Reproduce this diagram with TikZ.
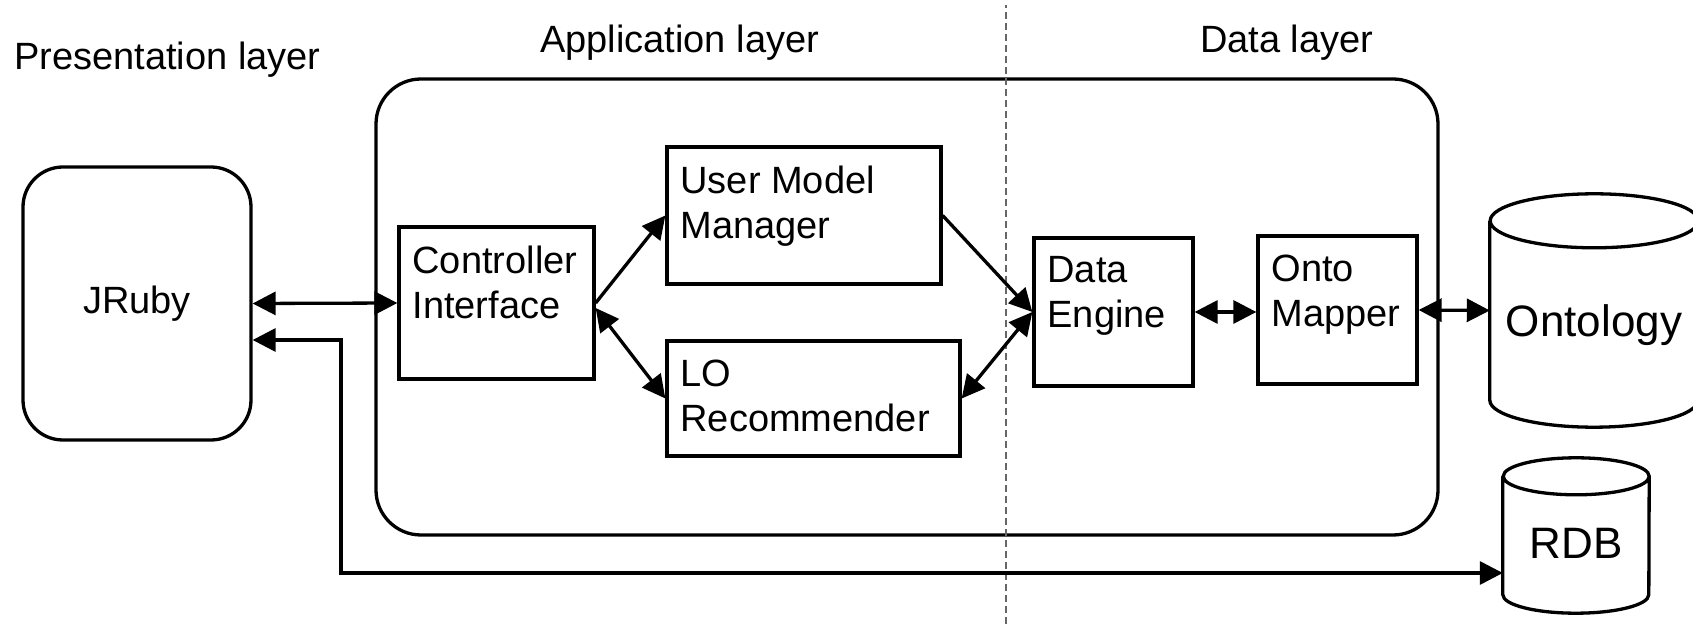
\documentclass[tikz,border=0pt]{standalone}
\usepackage{fontspec}
\setmainfont{Liberation Sans}
\usepackage{tikz}
\usetikzlibrary{arrows.meta,positioning}

\begin{document}
\begin{tikzpicture}[>={Triangle[length=23bp,width=23bp]},
	every node/.style={font=\fontsize{38bp}{45bp}\selectfont},
	block/.style={draw, line width=3.3bp, inner sep=0pt},
	blocktext/.style={label={[anchor=north west, inner sep=0pt, align=left, xshift=15bp, yshift=-20bp]north west:#1}},
	dbbox/.style={inner sep=0pt},
	dbfont/.style={inner sep=0pt, font=\fontsize{44bp}{52bp}\selectfont},
	title/.style={anchor=base west, inner sep=0pt},
	conn/.style={line width=3.3bp}]
	\useasboundingbox (0bp,0bp) rectangle (1693bp,624bp);

	% layer titles
	\node (pres) [title] at (14bp,554bp)   {Presentation layer};
	\node (appl) [title] at (540bp,571bp)  {Application layer};
	\node (datl) [title] at (1200bp,571bp) {Data layer};

	\node (jruby) [block, rounded corners=40bp, minimum width=228bp, minimum height=273bp] at (137bp,320.5bp) {JRuby};
	\node (app)   [block, rounded corners=45bp, minimum width=1062bp, minimum height=456bp] at (907bp,317bp) {};

	\node (ctrl) [block, minimum width=195bp, minimum height=152bp, blocktext={Controller\\Interface}] at (496.5bp,321bp) {};
	\node (umm)  [block, minimum width=274bp, minimum height=137bp, blocktext={User Model\\Manager}] at (804bp,408.5bp) {};
	\node (lo)   [block, minimum width=293bp, minimum height=115bp, blocktext={LO\\Recommender}] at (813.5bp,225.5bp) {};
	\node (de)   [block, minimum width=159bp, minimum height=148bp, blocktext={Data\\Engine}] at (1113.5bp,312bp) {};
	\node (om)   [block, minimum width=159bp, minimum height=148bp, blocktext={Onto\\Mapper}] at (1337.5bp,314bp) {};

	% databases
	\node (onto) [dbbox, minimum width=208bp, minimum height=233bp,
		label={[dbfont, yshift=-15bp]center:Ontology}] at (1594bp,313.5bp) {};
	\node (rdb)  [dbbox, minimum width=146bp, minimum height=155bp,
		label={[dbfont, yshift=-8bp]center:RDB}] at (1576bp,88.5bp) {};
	\foreach \db/\rx/\ry in {onto/104/27, rdb/73/18.5}
		\draw [line width=3.3bp] ([yshift=-\ry*1bp]\db.north west) -- ([yshift=\ry*1bp]\db.south west)
			arc [start angle=180, end angle=360, x radius=\rx*1bp, y radius=\ry*1bp]
			-- ([yshift=-\ry*1bp]\db.north east)
			arc [start angle=0, end angle=360, x radius=\rx*1bp, y radius=\ry*1bp];

	% layer border
	\draw [black!60, line width=1.4bp, dash pattern=on 7bp off 4bp] (1006bp,0bp) -- (1006bp,619bp);

	\coordinate (bend) at (341bp,51bp);
	\draw [conn,<->] (jruby.east) -- (ctrl.west);
	\draw [conn,<->] ([yshift=-36.5bp]jruby.east) -| (bend) -- (bend -| rdb.west);
	\draw [conn,->]  (ctrl.east) -- (umm.west);
	\draw [conn,<->] ([yshift=-5bp]ctrl.east) -- (lo.west);
	\draw [conn,->]  (umm.east) -- (de.west);
	\draw [conn,<->] (lo.east) -- (de.west);
	\draw [conn,<->] (de.east) -- (de.east -| om.west);
	\draw [conn,<->] (om.east) -- (onto.west);
\end{tikzpicture}
\end{document}
